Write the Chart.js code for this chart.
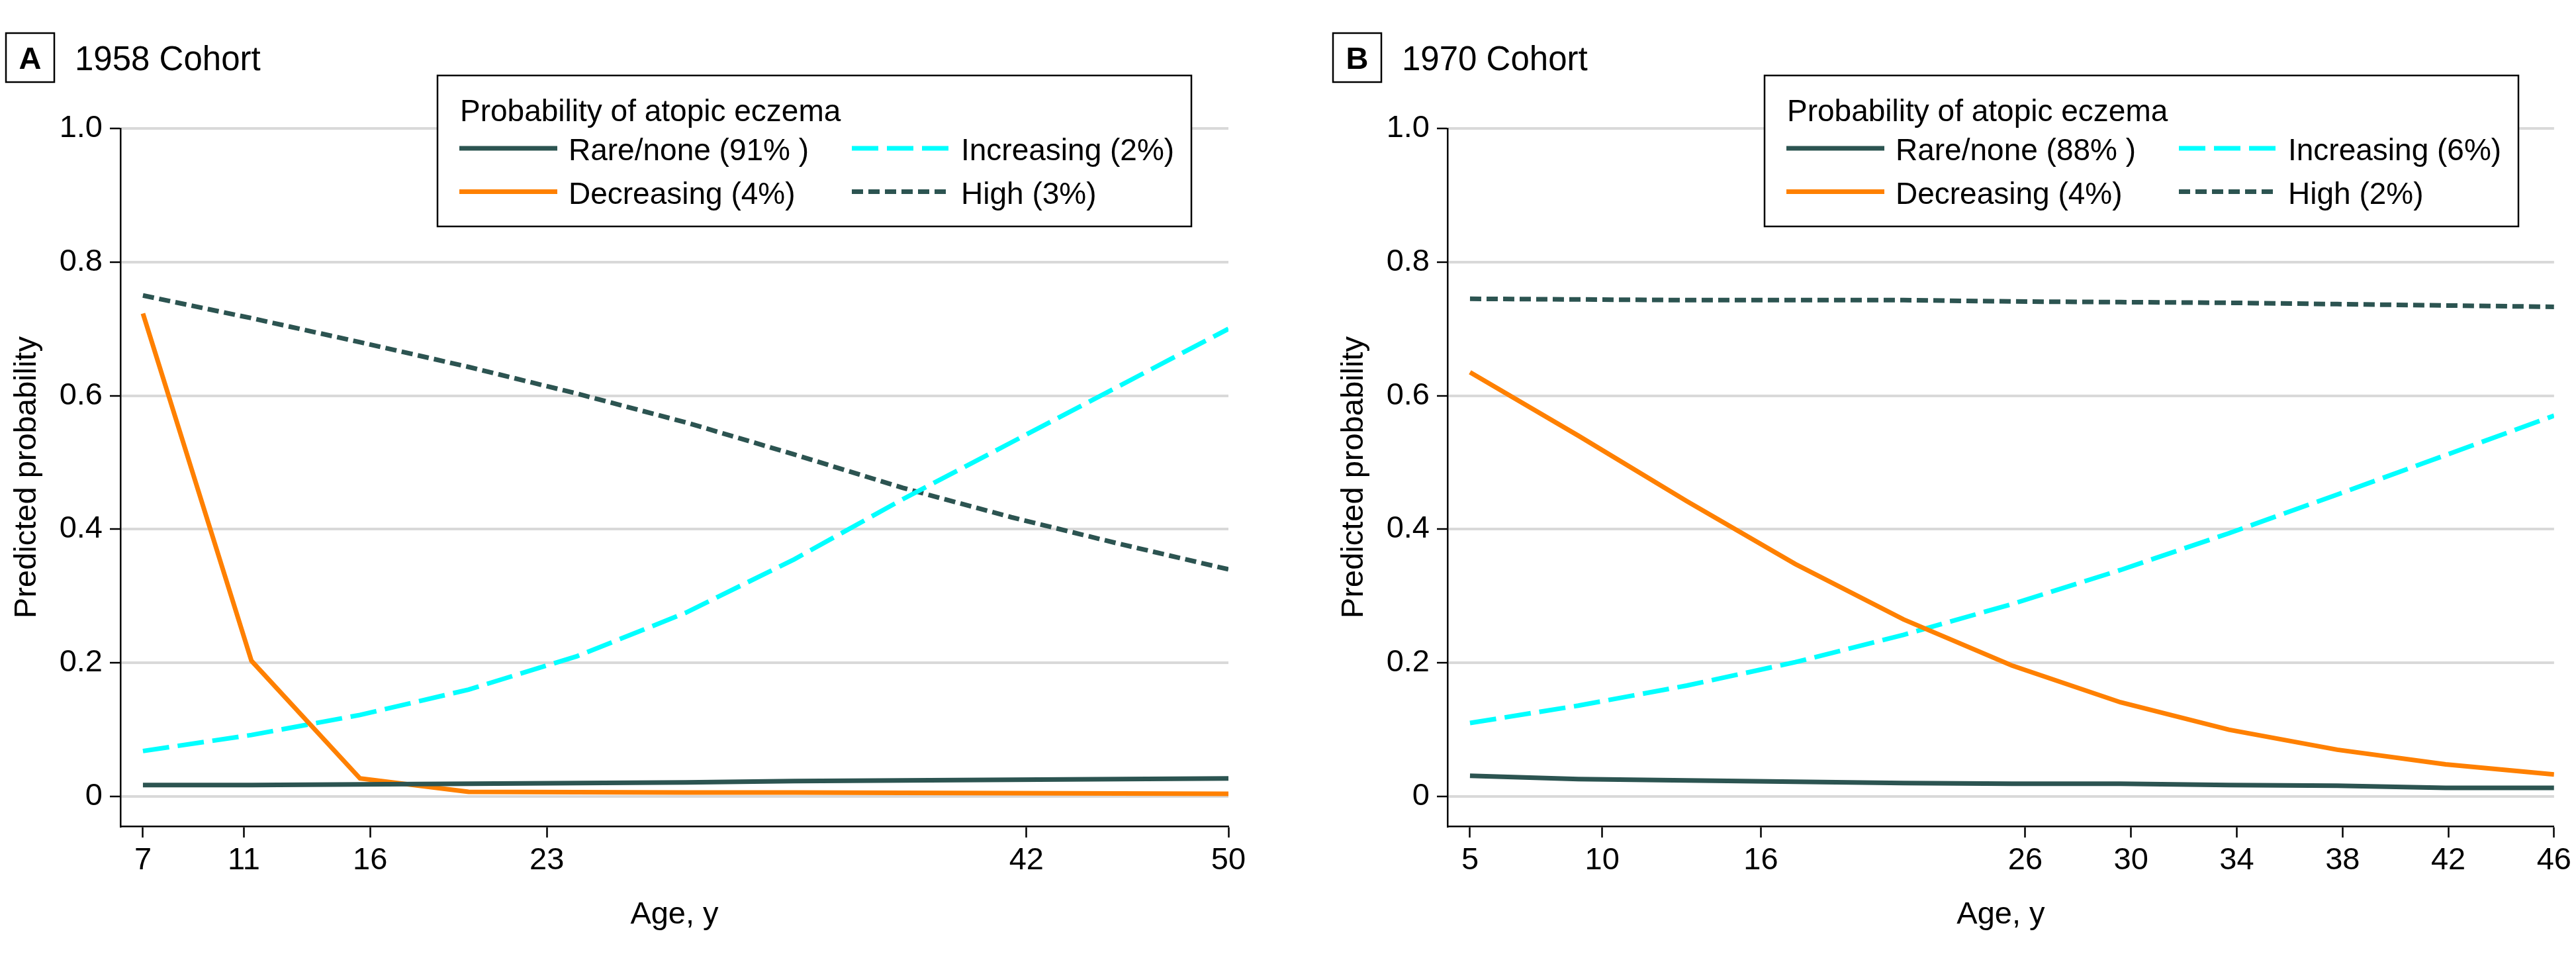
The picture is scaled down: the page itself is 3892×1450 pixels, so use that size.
<!DOCTYPE html>
<html><head><meta charset="utf-8">
<script src="https://cdn.jsdelivr.net/npm/chart.js@4.4.1/dist/chart.umd.min.js"></script>
<style>
html,body{margin:0;padding:0;background:#fff;}
#wrap{position:relative;width:3892px;height:1450px;background:#fff;overflow:hidden;}
canvas{position:absolute;top:0;}
</style></head><body>
<div id="wrap">
<canvas id="cA" width="2005" height="1450" style="left:0;width:2005px;height:1450px"></canvas>
<canvas id="cB" width="1887" height="1450" style="left:2005px;width:1887px;height:1450px"></canvas>
</div>
<script>
// ---------- DATA ----------
const agesA = [7, 11.3, 15.6, 19.9, 24.2, 28.5, 32.8, 37.1, 41.4, 45.7, 50];
const rareA = [0.017, 0.017, 0.018, 0.019, 0.020, 0.021, 0.023, 0.024, 0.025, 0.026, 0.027];
const decA  = [0.723, 0.203, 0.027, 0.007, 0.0065, 0.006, 0.006, 0.0055, 0.005, 0.0045, 0.004];
const incA  = [0.068, 0.092, 0.122, 0.160, 0.210, 0.275, 0.355, 0.445, 0.530, 0.615, 0.700];
const highA = [0.750, 0.716, 0.680, 0.643, 0.603, 0.560, 0.512, 0.462, 0.418, 0.378, 0.340];
const xTicksA = [7, 11, 16, 23, 42, 50];
const labelsA = ["Rare/none (91% )", "Decreasing (4%)", "Increasing (2%)", "High (3%)"];

const agesB = [5, 9.1, 13.2, 17.3, 21.4, 25.5, 29.6, 33.7, 37.8, 41.9, 46];
const rareB = [0.031, 0.026, 0.024, 0.022, 0.020, 0.019, 0.019, 0.017, 0.016, 0.013, 0.013];
const decB  = [0.635, 0.540, 0.442, 0.348, 0.265, 0.196, 0.141, 0.100, 0.070, 0.048, 0.033];
const incB  = [0.110, 0.136, 0.166, 0.201, 0.242, 0.288, 0.339, 0.394, 0.452, 0.511, 0.570];
const highB = [0.745, 0.744, 0.743, 0.743, 0.743, 0.741, 0.740, 0.739, 0.737, 0.735, 0.733];
const xTicksB = [5, 10, 16, 26, 30, 34, 38, 42, 46];
const labelsB = ["Rare/none (88% )", "Decreasing (4%)", "Increasing (6%)", "High (2%)"];

const yTicks = [0, 0.2, 0.4, 0.6, 0.8, 1.0];
const legendTitle = "Probability of atopic eczema";
const xTitle = "Age, y";
const yTitle = "Predicted probability";

// ---------- STYLE ----------
const FONT = "'Liberation Sans', Arial, sans-serif";
const TEAL = '#2c5451', ORANGE = '#ff8000', CYAN = '#00ffff';

const decor = {
  id: 'decor',
  afterDraw(chart, args, opts) {
    const ctx = chart.ctx, ca = chart.chartArea;
    ctx.save();
    ctx.lineWidth = 2.5; ctx.strokeStyle = '#000'; ctx.setLineDash([]);
    const tx = ca.left - 173;
    ctx.strokeRect(tx, 50, 73, 74);
    ctx.fillStyle = '#000';
    ctx.textBaseline = 'alphabetic';
    ctx.font = 'bold 47px ' + FONT; ctx.textAlign = 'center';
    ctx.fillText(opts.letter, tx + 36.5, 104);
    ctx.font = '51px ' + FONT; ctx.textAlign = 'left';
    ctx.fillText(opts.title, ca.left - 69, 106);
    // legend box
    const bx = ca.left + 479, by = 114, bw = 1139, bh = 228;
    ctx.fillStyle = '#fff'; ctx.fillRect(bx, by, bw, bh);
    ctx.strokeRect(bx, by, bw, bh);
    ctx.fillStyle = '#000'; ctx.font = '46px ' + FONT;
    ctx.fillText(legendTitle, bx + 34, by + 69);
    chart.data.datasets.forEach((ds, i) => {
      const col = Math.floor(i / 2), row = i % 2;
      const lx = bx + 33 + col * 593, ly = by + 110 + row * 65.5;
      ctx.beginPath();
      ctx.setLineDash(ds.borderDash || []);
      ctx.lineWidth = ds.borderWidth; ctx.strokeStyle = ds.borderColor;
      ctx.moveTo(lx, ly); ctx.lineTo(lx + 148, ly); ctx.stroke();
      ctx.setLineDash([]);
      ctx.fillStyle = '#000';
      ctx.fillText(ds.label, lx + 165, ly + 18);
    });
    ctx.restore();
  }
};

function pts(xs, ys) { return xs.map((x, i) => ({x: x, y: ys[i]})); }

function makeChart(id, ages, series, labels, xTicks, xmin, xmax, letter, title, padRight) {
  const styles = [
    {borderColor: TEAL, borderDash: []},
    {borderColor: ORANGE, borderDash: []},
    {borderColor: CYAN, borderDash: [40, 13]},
    {borderColor: TEAL, borderDash: [17, 8]}
  ];
  const datasets = series.map((s, i) => Object.assign({
    label: labels[i], data: pts(ages, s), borderWidth: 7, pointRadius: 0,
    tension: 0, fill: false, borderCapStyle: 'butt'
  }, styles[i]));
  return new Chart(document.getElementById(id), {
    type: 'line',
    data: {datasets},
    options: {
      responsive: false, devicePixelRatio: 1, animation: false,
      layout: {padding: {left: 0, top: 194, right: padRight, bottom: 0}},
      plugins: {legend: {display: false}, tooltip: {enabled: false}, title: {display: false},
        decor: {letter, title}},
      scales: {
        x: {
          type: 'linear', min: xmin, max: xmax,
          afterBuildTicks: sc => { sc.ticks = xTicks.map(v => ({value: v})); },
          afterFit: sc => { sc.height = 202; },
          grid: {drawOnChartArea: false, drawTicks: true, tickLength: 17, tickColor: '#000', tickWidth: 2.5},
          border: {display: true, color: '#000', width: 2.5},
          ticks: {color: '#000', font: {family: FONT, size: 47}, padding: 7, maxRotation: 0, autoSkip: false,
            callback: v => String(v)},
          title: {display: true, text: xTitle, color: '#000', font: {family: FONT, size: 47}, padding: {top: 0, bottom: 40}}
        },
        y: {
          type: 'linear', min: -0.0446, max: 1.0,
          afterBuildTicks: sc => { sc.ticks = yTicks.map(v => ({value: v})); },
          afterFit: sc => { sc.width = 182; },
          grid: {color: '#d9d9d9', lineWidth: 4, drawTicks: true, tickLength: 16, tickColor: '#000', tickWidth: 2.5},
          border: {display: true, color: '#000', width: 2.5},
          ticks: {color: '#000', font: {family: FONT, size: 47}, padding: 11, autoSkip: false,
            callback: v => (v === 0 ? '0' : v.toFixed(1))},
          title: {display: true, text: yTitle, color: '#000', font: {family: FONT, size: 47}, padding: {top: 13}}
        }
      }
    },
    plugins: [decor]
  });
}

makeChart('cA', agesA, [rareA, decA, incA, highA], labelsA, xTicksA, 6.11, 50, 'A', '1958 Cohort', 149);
makeChart('cB', agesB, [rareB, decB, incB, highB], labelsB, xTicksB, 4.15, 46, 'B', '1970 Cohort', 32);
</script>
</body></html>
